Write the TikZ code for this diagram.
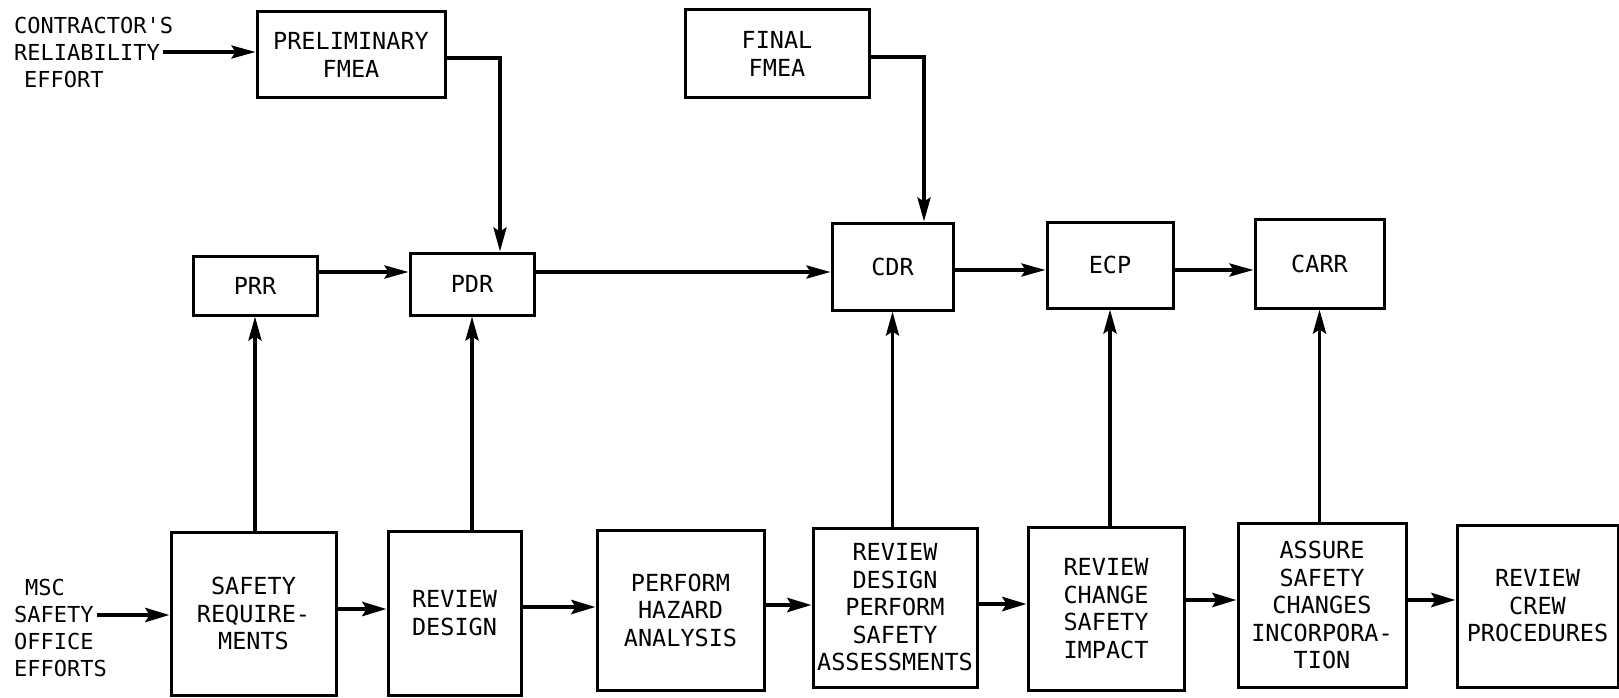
\documentclass[tikz,border=0pt]{standalone}
\usepackage{fontspec}
\setmonofont{DejaVu Sans Mono}
\usetikzlibrary{arrows.meta}
\tikzset{
  blk/.style={draw, line width=3pt, rectangle, inner sep=0pt, align=center,
    font=\ttfamily\fontsize{23.5}{27.5}\selectfont},
  lbl/.style={inner sep=0pt, align=left, font=\ttfamily\fontsize{22}{27}\selectfont},
  arr/.style={line width=3.5pt, -{Stealth[length=24pt,width=13pt,inset=4pt]}},
  barr/.style={line width=4.5pt, -{Stealth[length=24pt,width=14pt,inset=4pt]}},
  ln/.style={line width=3.5pt}
}
\begin{document}
\begin{tikzpicture}[x=1pt,y=-1pt]
\useasboundingbox (0,0) rectangle (1619,698);
% top row
\node[blk, minimum width=188pt, minimum height=86pt] (prelim) at (351,55) {PRELIMINARY\\FMEA};
\node[blk, minimum width=184pt, minimum height=88pt] (final) at (777,54) {FINAL\\FMEA};
% middle row
\node[blk, minimum width=124pt, minimum height=59pt] (prr) at (255,285.5) {PRR};
\node[blk, minimum width=124pt, minimum height=62pt] (pdr) at (472,284) {PDR};
\node[blk, minimum width=121pt, minimum height=87pt] (cdr) at (892.5,266.5) {CDR};
\node[blk, minimum width=126pt, minimum height=86pt] (ecp) at (1110,265) {ECP};
\node[blk, minimum width=129pt, minimum height=89pt] (carr) at (1319.5,263.5) {CARR};
% bottom row
\node[blk, minimum width=165pt, minimum height=163pt] (sr) at (253.5,613.5) {SAFETY\\REQUIRE-\\MENTS};
\node[blk, minimum width=133pt, minimum height=164pt] (rd) at (454.5,613) {REVIEW\\DESIGN};
\node[blk, minimum width=167pt, minimum height=160pt] (ph) at (680.5,610) {PERFORM\\HAZARD\\ANALYSIS};
\node[blk, minimum width=164pt, minimum height=159pt] (rdpsa) at (895,607.5) {REVIEW\\DESIGN\\PERFORM\\SAFETY\\ASSESSMENTS};
\node[blk, minimum width=156pt, minimum height=163pt] (rc) at (1106,608.5) {REVIEW\\CHANGE\\SAFETY\\IMPACT};
\node[blk, minimum width=168pt, minimum height=164pt] (as) at (1322,605) {ASSURE\\SAFETY\\CHANGES\\INCORPORA-\\TION};
\node[blk, minimum width=161pt, minimum height=162pt] (rcp) at (1537.5,606) {REVIEW\\CREW\\PROCEDURES};
% labels
\node[lbl, anchor=west] (contr) at (14,52) {CONTRACTOR'S\\RELIABILITY\\\hspace*{0.45em}EFFORT};
\node[lbl, anchor=west] (msc) at (14,628) {\hspace*{0.5em}MSC\\SAFETY\\OFFICE\\EFFORTS};
\coordinate (cstart) at (163,52);
\coordinate (mstart) at (97,615);
% input arrows
\draw[arr] (cstart) -- (prelim.west |- cstart);
\draw[barr] (mstart) -- (sr.west |- mstart);
% FMEA feeds
\draw[ln] (prelim.east |- 0,58) -| (500,180);
\draw[arr] (500,170) -- (pdr.north -| 500,0);
\draw[ln] (final.east |- 0,57) -| (924,150);
\draw[arr] (924,140) -- (cdr.north -| 924,0);
% middle row arrows
\draw[arr] (prr.east |- 0,272) -- (pdr.west |- 0,272);
\draw[arr] (pdr.east |- 0,272) -- (cdr.west |- 0,272);
\draw[arr] (cdr.east |- 0,270) -- (ecp.west |- 0,270);
\draw[arr] (ecp.east |- 0,270) -- (carr.west |- 0,270);
% vertical arrows
\draw[arr] (prr.south |- sr.north) -- (prr.south);
\draw[arr] (pdr.south |- rd.north) -- (pdr.south);
\draw[arr] (cdr.south |- rdpsa.north) -- (cdr.south);
\draw[arr] (ecp.south |- rc.north) -- (ecp.south);
\draw[arr] (carr.south |- as.north) -- (carr.south);
% bottom row arrows
\draw[barr] (sr.east |- 0,609) -- (rd.west |- 0,609);
\draw[barr] (rd.east |- 0,607) -- (ph.west |- 0,607);
\draw[barr] (ph.east |- 0,605) -- (rdpsa.west |- 0,605);
\draw[barr] (rdpsa.east |- 0,604) -- (rc.west |- 0,604);
\draw[barr] (rc.east |- 0,600) -- (as.west |- 0,600);
\draw[barr] (as.east |- 0,600) -- (rcp.west |- 0,600);
\end{tikzpicture}
\end{document}
